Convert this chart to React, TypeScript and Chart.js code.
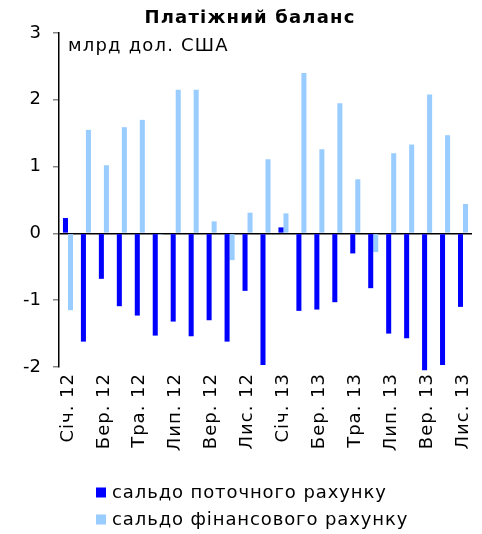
import React, { useEffect, useRef } from "react";
import { Chart, registerables } from "chart.js";

Chart.register(...registerables);

const months = [
  "Січ. 12", "Лют. 12", "Бер. 12", "Кві. 12", "Тра. 12", "Чер. 12",
  "Лип. 12", "Сер. 12", "Вер. 12", "Жов. 12", "Лис. 12", "Гру. 12",
  "Січ. 13", "Лют. 13", "Бер. 13", "Кві. 13", "Тра. 13", "Чер. 13",
  "Лип. 13", "Сер. 13", "Вер. 13", "Жов. 13", "Лис. 13",
];

const currentAccount = [
  0.23, -1.62, -0.68, -1.09, -1.23, -1.53, -1.32, -1.54, -1.3, -1.62, -0.86, -1.97,
  0.09, -1.16, -1.14, -1.03, -0.3, -0.82, -1.5, -1.57, -2.05, -1.97, -1.1,
];

const financialAccount = [
  -1.15, 1.55, 1.02, 1.59, 1.7, -0.02, 2.15, 2.15, 0.18, -0.4, 0.31, 1.11,
  0.3, 2.4, 1.26, 1.95, 0.81, -0.28, 1.2, 1.33, 2.08, 1.47, 0.44,
];

const seriesNames = ["сальдо поточного рахунку", "сальдо фінансового рахунку"];
const seriesColors = ["#0000FF", "#99CCFF"];
const titleText = "Платіжний баланс";
const unitText = "млрд дол. США";

const FONT = "'DejaVu Sans', Verdana, sans-serif";

const textPlugin = {
  id: "textPlugin",
  beforeDraw(chart: any) {
    (chart.ctx as any).letterSpacing = "0px";
  },
  afterDatasetsDraw(chart: any) {
    (chart.ctx as any).letterSpacing = "1px";
  },
  afterDraw(chart: any) {
    const { ctx, chartArea } = chart;
    ctx.save();
    ctx.fillStyle = "#000";
    ctx.textBaseline = "alphabetic";
    (ctx as any).letterSpacing = "1.2px";
    ctx.font = `bold 18px ${FONT}`;
    ctx.textAlign = "center";
    ctx.fillText(titleText, 242, 15);
    (ctx as any).letterSpacing = "1.2px";
    ctx.font = `18px ${FONT}`;
    ctx.textAlign = "left";
    ctx.fillText(unitText, chartArea.left + 9, 43);
    (ctx as any).letterSpacing = "0.9px";
    const rows = [484.5, 511.5];
    seriesNames.forEach((name, i) => {
      ctx.fillStyle = seriesColors[i];
      ctx.fillRect(88, rows[i] - 5, 10, 10);
      ctx.fillStyle = "#000";
      ctx.textBaseline = "middle";
      ctx.fillText(name, 104, rows[i] + 1);
    });
    ctx.restore();
    (ctx as any).letterSpacing = "0px";
  },
};

export default function App() {
  const ref = useRef<HTMLCanvasElement>(null);
  useEffect(() => {
    if (!ref.current) return;
    const chart = new Chart(ref.current, {
      type: "bar",
      data: {
        labels: months,
        datasets: [
          {
            label: seriesNames[0],
            data: currentAccount,
            backgroundColor: seriesColors[0],
            borderWidth: 0,
            categoryPercentage: 0.56,
            barPercentage: 1,
            clip: false as any,
          },
          {
            label: seriesNames[1],
            data: financialAccount,
            backgroundColor: seriesColors[1],
            borderWidth: 0,
            categoryPercentage: 0.56,
            barPercentage: 1,
            clip: false as any,
          },
        ],
      },
      options: {
        animation: false,
        responsive: true,
        maintainAspectRatio: false,
        layout: { padding: { top: 25, bottom: 67, left: 0, right: 2 } },
        plugins: {
          legend: { display: false },
          title: { display: false },
          tooltip: { enabled: false },
        },
        scales: {
          x: {
            grid: { display: false, drawTicks: false },
            border: { display: false },
            ticks: {
              z: 1,
              autoSkip: false,
              maxRotation: 90,
              minRotation: 90,
              padding: 6,
              color: "#000",
              font: { family: FONT, size: 18 },
              callback: (_v: any, i: number) => (i % 2 === 0 ? months[i] : ""),
            },
            afterFit: (scale: any) => {
              scale.height = 100;
              scale.paddingLeft = 0;
              scale.paddingRight = 0;
            },
          },
          y: {
            min: -2,
            max: 3,
            ticks: {
              stepSize: 1,
              padding: 12,
              color: "#000",
              font: { family: FONT, size: 18 },
            },
            grid: {
              drawTicks: true,
              tickLength: 6,
              tickColor: "#888",
              color: (ctx: any) => (ctx.tick && ctx.tick.value === 0 ? "#000" : "rgba(0,0,0,0)"),
              lineWidth: 1.5,
            },
            border: { display: true, color: "#000", width: 1.5 },
            afterFit: (scale: any) => {
              scale.width = 51;
            },
          },
        },
      },
      plugins: [textPlugin],
    });
    return () => chart.destroy();
  }, []);
  return (
    <div style={{ width: 466, height: 526, position: "relative" }}>
      <canvas ref={ref} />
    </div>
  );
}
